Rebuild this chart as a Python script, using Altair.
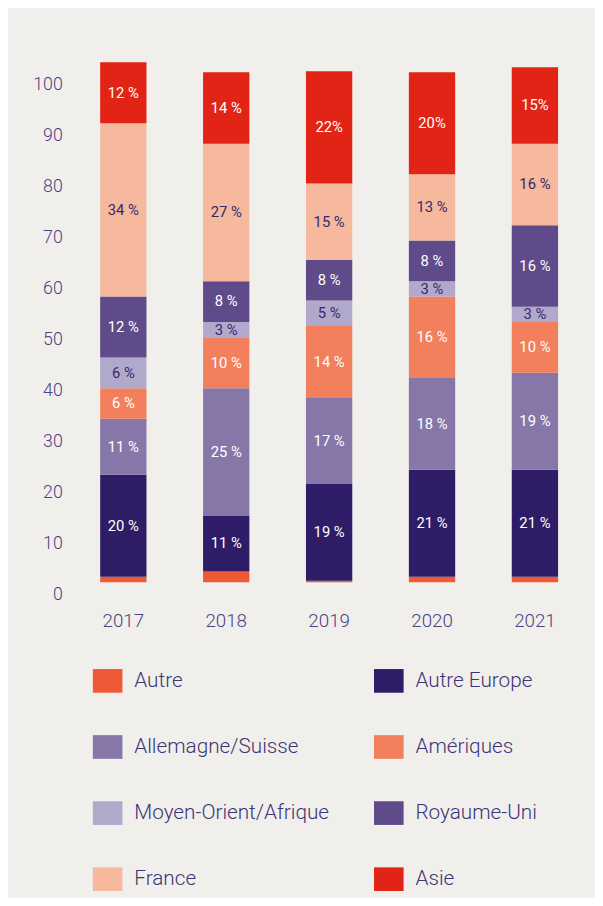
import altair as alt
import pandas as pd

years = ["2017", "2018", "2019", "2020", "2021"]
regions = ["Autre", "Autre Europe", "Allemagne/Suisse", "Amériques",
           "Moyen-Orient/Afrique", "Royaume-Uni", "France", "Asie"]
colors = ["#ee5a36", "#2e1d66", "#8677a8", "#f2805c",
          "#b1a9cc", "#5f4b89", "#f6b99e", "#e22416"]

autre = [1.1, 2.1, 0.3, 1.1, 1.1]
autre_europe = [20, 11, 19, 21, 21]
allemagne_suisse = [11, 25, 17, 18, 19]
ameriques = [6, 10, 14, 16, 10]
moyen_orient = [6, 3, 5, 3, 3]
royaume_uni = [12, 8, 8, 8, 16]
france = [34, 27, 15, 13, 16]
asie = [12, 14, 22, 20, 15]

asie_labels = ["12 %", "14 %", "22%", "20%", "15%"]

series = [autre, autre_europe, allemagne_suisse, ameriques,
          moyen_orient, royaume_uni, france, asie]

rows = []
for i, (reg, vals) in enumerate(zip(regions, series)):
    for j, (yr, v) in enumerate(zip(years, vals)):
        if reg == "Autre":
            lab = ""
        elif reg == "Asie":
            lab = asie_labels[j]
        else:
            lab = f"{v} %"
        rows.append({"year": yr, "region": reg, "value": v, "order": i, "label": lab})
df = pd.DataFrame(rows)

axis_color = "#4a4284"
dark_text = "#35286b"

base = alt.Chart(df).transform_stack(
    stack="value", groupby=["year"], as_=["y0", "y1"],
    sort=[alt.SortField("order", order="ascending")]
).transform_calculate(mid="(datum.y0 + datum.y1) / 2")

x_enc = alt.X("year:N", scale=alt.Scale(domain=years, paddingInner=0.55, paddingOuter=0.1),
              axis=alt.Axis(title=None, labelAngle=0, domain=False, ticks=False,
                            labelFont="Roboto", labelFontSize=19, labelFontWeight=300,
                            labelColor=axis_color, labelPadding=30))

bars = base.mark_bar().encode(
    x=x_enc,
    y=alt.Y("y0:Q", scale=alt.Scale(domain=[0, 104], nice=False, zero=True),
            axis=alt.Axis(title=None, values=list(range(0, 101, 10)), domain=False,
                          ticks=False, grid=False, labelFont="Roboto", labelFontSize=18,
                          labelFontWeight=300, labelColor=axis_color, labelPadding=28,
                          labelOffset=12, labelBaseline="middle")),
    y2="y1:Q",
    color=alt.Color("region:N", scale=alt.Scale(domain=regions, range=colors),
                    legend=alt.Legend(orient="none", legendX=3, legendY=622, columns=2,
                                      direction="horizontal",
                                      title=None, padding=0,
                                      symbolType="M-1,-0.8H1V0.8H-1Z", symbolSize=900,
                                      symbolStrokeWidth=0, symbolOpacity=1,
                                      labelFont="Roboto", labelFontSize=21,
                                      labelFontWeight=300, labelColor="#3d3576",
                                      labelOffset=12, rowPadding=40, columnPadding=45,
                                      labelLimit=400)),
    order=alt.Order("order:Q"),
)

texts = base.mark_text(font="Roboto", fontSize=15, baseline="middle", align="center").encode(
    x=alt.X("year:N", scale=alt.Scale(domain=years, paddingInner=0.55, paddingOuter=0.1)),
    y=alt.Y("mid:Q"),
    text="label:N",
    color=alt.condition(
        "datum.region == 'France' || datum.region == 'Moyen-Orient/Afrique'",
        alt.value(dark_text), alt.value("#ffffff")),
)

chart = alt.layer(bars, texts).properties(
    width=485, height=537,
    padding={"left": 83, "top": 39, "right": 27, "bottom": 314},
    autosize=alt.AutoSizeParams(type="none"),
    background="#f0efeb",
).configure_view(stroke=None)

chart.save("out.html", embed_options={"renderer": "svg", "actions": False})
